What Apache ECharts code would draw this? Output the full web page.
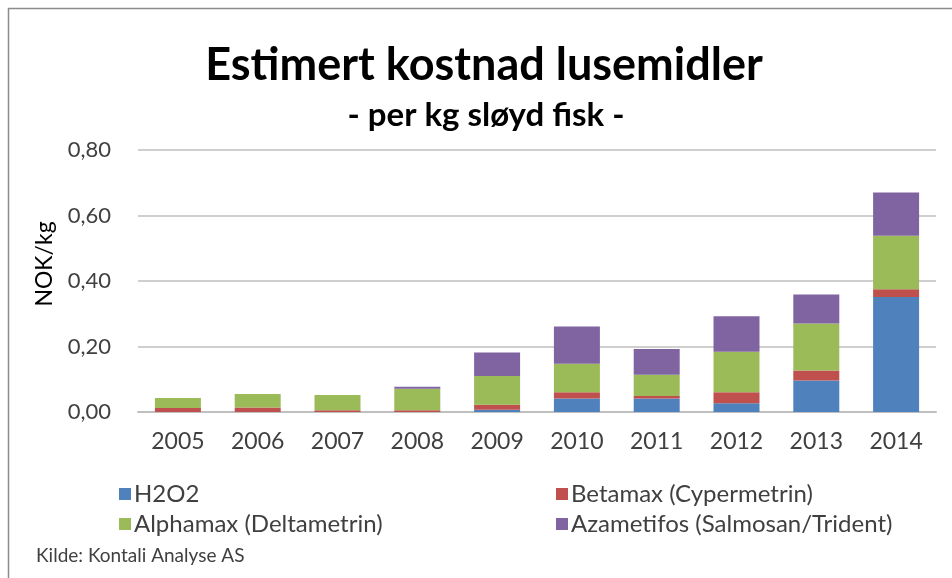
<!DOCTYPE html>
<html>
<head>
<meta charset="utf-8">
<script src="https://cdn.jsdelivr.net/npm/echarts@6/dist/echarts.min.js"></script>
<style>
  html, body { margin: 0; padding: 0; background: #fff; }
  #chart { width: 952px; height: 578px; }
</style>
</head>
<body>
<div id="chart"></div>
<script>
// data
var years = ['2005', '2006', '2007', '2008', '2009', '2010', '2011', '2012', '2013', '2014'];
var h2o2 =       [0,     0,     0,     0,     0.007, 0.041, 0.041, 0.027, 0.096, 0.351];
var betamax =    [0.012, 0.014, 0.005, 0.005, 0.015, 0.019, 0.008, 0.033, 0.031, 0.024];
var alphamax =   [0.031, 0.041, 0.047, 0.066, 0.088, 0.087, 0.065, 0.124, 0.143, 0.163];
var azametifos = [0,     0,     0,     0.006, 0.072, 0.114, 0.078, 0.108, 0.089, 0.132];

var fnt = 'Lato, "Open Sans", sans-serif';
var txt = '#404040';

var myChart = echarts.init(document.getElementById('chart'));

function bar(name, data, color) {
    return {
        name: name,
        type: 'bar',
        stack: 'total',
        barWidth: 46,
        data: data,
        itemStyle: { color: color }
    };
}

option = {
    backgroundColor: '#fff',
    animation: false,
    textStyle: { fontFamily: fnt },
    title: [
        {
            text: 'Estimert kostnad lusemidler',
            left: 479, top: 38, textAlign: 'center',
            textStyle: { fontFamily: fnt, fontSize: 45, fontWeight: 'bold', color: '#000' }
        },
        {
            text: '- per kg sløyd fisk -',
            left: 481, top: 94, textAlign: 'center',
            textStyle: { fontFamily: fnt, fontSize: 33, fontWeight: 'bold', color: '#000' }
        }
    ],
    legend: [
        {
            data: ['H2O2', 'Alphamax (Deltametrin)'],
            orient: 'vertical', left: 114, top: 477,
            itemWidth: 12, itemHeight: 12, itemGap: 6,
            icon: 'rect',
            textStyle: { fontFamily: fnt, fontSize: 24, color: txt, lineHeight: 24, padding: [0, 0, 0, -2] }
        },
        {
            data: ['Betamax (Cypermetrin)', 'Azametifos (Salmosan/Trident)'],
            orient: 'vertical', left: 551, top: 477,
            itemWidth: 12, itemHeight: 12, itemGap: 6,
            icon: 'rect',
            textStyle: { fontFamily: fnt, fontSize: 24, color: txt, lineHeight: 24, padding: [0, 0, 0, -2] }
        }
    ],
    grid: { left: 138, right: 16, top: 150, bottom: 166 },
    xAxis: {
        type: 'category',
        data: years,
        axisLine: { lineStyle: { color: '#bfbfbf', width: 2 } },
        axisTick: { show: false },
        axisLabel: { fontSize: 23, color: txt, margin: 18 }
    },
    yAxis: {
        type: 'value',
        min: 0, max: 0.8, interval: 0.2,
        name: 'NOK/kg',
        nameLocation: 'middle',
        nameGap: 82,
        nameTextStyle: { fontSize: 23, color: '#000', padding: [0, 0, 0, 34] },
        axisLabel: {
            fontSize: 22, color: txt, margin: 27,
            formatter: function (v) { return v.toFixed(2).replace('.', ','); }
        },
        splitLine: { lineStyle: { color: '#bfbfbf', width: 1.5 } }
    },
    graphic: [
        {
            type: 'rect',
            shape: { x: 8.5, y: 8.5, width: 1000, height: 1000 },
            style: { fill: 'none', stroke: '#8c8c8c', lineWidth: 1.5 }
        },
        {
            type: 'text',
            left: 36, top: 546,
            style: { text: 'Kilde: Kontali Analyse AS', font: '19px ' + fnt, fill: txt }
        }
    ],
    series: [
        bar('H2O2', h2o2, '#4F81BD'),
        bar('Betamax (Cypermetrin)', betamax, '#C0504D'),
        bar('Alphamax (Deltametrin)', alphamax, '#9BBB59'),
        bar('Azametifos (Salmosan/Trident)', azametifos, '#8064A2')
    ]
};

myChart.setOption(option);
</script>
</body>
</html>
